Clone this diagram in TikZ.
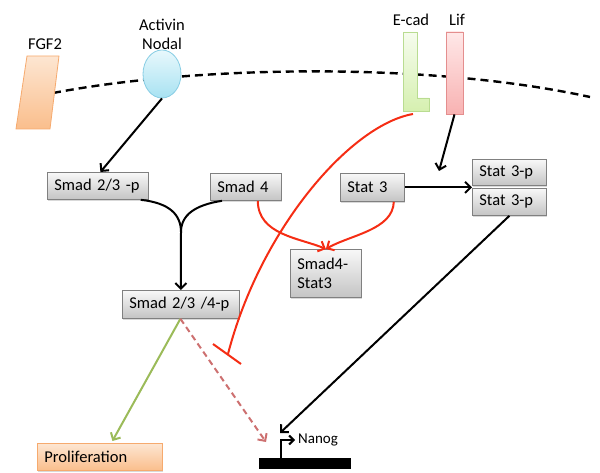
\documentclass[tikz,border=0pt]{standalone}
\usepackage{fontspec}
\setmainfont{Carlito}
\usetikzlibrary{arrows.meta,shadows,shapes.geometric}

\definecolor{boxline}{RGB}{128,128,128}
\definecolor{boxtop}{RGB}{248,248,248}
\definecolor{boxbot}{RGB}{196,196,196}
\definecolor{orline}{RGB}{246,170,110}
\definecolor{ortop}{RGB}{253,230,210}
\definecolor{orbot}{RGB}{250,190,140}
\definecolor{cyline}{RGB}{135,205,228}
\definecolor{cytop}{RGB}{232,248,252}
\definecolor{cybot}{RGB}{168,226,242}
\definecolor{grline}{RGB}{185,220,145}
\definecolor{grtop}{RGB}{246,252,238}
\definecolor{grbot}{RGB}{214,240,176}
\definecolor{pkline}{RGB}{228,142,142}
\definecolor{pktop}{RGB}{255,232,232}
\definecolor{pkbot}{RGB}{248,178,178}
\definecolor{inhred}{RGB}{245,45,20}
\definecolor{dashred}{RGB}{205,112,112}
\definecolor{leafgreen}{RGB}{155,187,89}

\begin{document}
\begin{tikzpicture}[x=1pt,y=-1pt,
  txt/.style={font=\fontsize{16.5}{19}\selectfont, inner sep=0pt},
  gbox/.style={draw=boxline, line width=0.8pt, top color=boxtop, bottom color=boxbot,
    drop shadow={opacity=0.3, shadow xshift=1pt, shadow yshift=-1.5pt},
    inner xsep=7pt, inner ysep=0pt, align=left, anchor=north west,
    font=\fontsize{16.5}{19}\selectfont},
  tip/.style={-{Straight Barb[length=5.5pt,width=11pt]}},
  blk/.style={draw=black, line width=2pt, tip},
  blkline/.style={draw=black, line width=2pt},
  redarr/.style={draw=inhred, line width=2pt, tip},
  redline/.style={draw=inhred, line width=2pt},
]
\useasboundingbox (0,0) rectangle (600,473);

% cell membrane
\draw[line width=2.4pt, dash pattern=on 8pt off 5pt]
  (53,93) .. controls (200,65) and (430,62) .. (590,97);

% receptors and ligands at the membrane
\path[draw=orline, line width=0.8pt, top color=ortop, bottom color=orbot]
  (27,56) -- (59,56) -- (50,129) -- (16,129) -- cycle;
\node[txt] (fgf) at (45,44) {FGF2};

\node[ellipse, draw=cyline, line width=0.8pt, top color=cytop, bottom color=cybot,
  minimum width=38pt, minimum height=48pt, inner sep=0pt] (act) at (162,74) {};
\node[txt, align=center] (actlbl) at (162,34) {Activin\\Nodal};

\path[draw=grline, line width=0.8pt, top color=grtop, bottom color=grbot]
  (403,32) -- (417,32) -- (417,98) -- (429,98) -- (429,111) -- (403,111) -- cycle;
\node[txt] (ecadlbl) at (411,20) {E-cad};
\coordinate (ecadb) at (413,114);

\node[draw=pkline, line width=0.8pt, top color=pktop, bottom color=pkbot,
  minimum width=17pt, minimum height=82pt, inner sep=0pt] (lif) at (454.5,73) {};
\node[txt] (liflbl) at (457,20) {Lif};

% signalling intermediates
\node[gbox, text width=87pt, minimum height=27pt] (s23p) at (47,172) {\mbox{Smad 2/3 -p}};
\node[gbox, text width=57pt, minimum height=27pt] (s4) at (210,173) {\mbox{Smad 4}};
\node[gbox, text width=50pt, minimum height=28pt] (st3) at (340,173) {\mbox{Stat 3}};
\node[gbox, text width=60pt, minimum height=26pt] (stp1) at (472,159) {\mbox{Stat 3-p}};
\node[gbox, text width=60pt, minimum height=27pt] (stp2) at (472,188) {\mbox{Stat 3-p}};
\node[gbox, text width=57pt, minimum height=48pt] (cx) at (290,249) {Smad4-\\Stat3};
\node[gbox, text width=103pt, minimum height=28pt] (s234) at (122,290) {\mbox{Smad 2/3 /4-p}};

% outputs
\node[gbox, draw=orline, top color=ortop, bottom color=orbot, text width=111pt,
  minimum height=27pt] (prol) at (37,443) {\mbox{Proliferation}};
\node[fill=black, minimum width=92pt, minimum height=11pt, inner sep=0pt,
  anchor=north west] (nbar) at (259,458) {};
\node[font=\fontsize{15}{18}\selectfont, inner sep=0pt, anchor=west] (nanog) at (298,440) {Nanog};
\draw[line width=2pt, -{Straight Barb[length=4.5pt,width=9pt]}]
  ([xshift=22pt]nbar.north west) |- ([xshift=-3pt]nanog.west);

% connectors
\coordinate (merge) at (181,232);
\coordinate (lifend) at (439,171);
\coordinate (inh) at (228,354);
\coordinate (nanin) at (266,442);
\coordinate (statin) at (280,433);

\draw[blk] (act.south) -- ([xshift=2.5pt]s23p.north);
\draw[blkline] ([xshift=-8pt]s23p.south east) .. controls (170,203) and (181,215) .. (merge);
\draw[blkline] ([xshift=12pt]s4.south west) .. controls (195,205) and (181,215) .. (merge);
\draw[blk] (merge) -- (s234.north);

\draw[redarr] ([xshift=-24pt]s4.south east) .. controls (258,235) and (300,238) .. (cx.north);
\draw[redarr] ([xshift=-11pt]st3.south east) .. controls (393,230) and (350,235) .. (cx.north);

\draw[blk] (st3.east) -- (st3.east -| stp2.west);
\draw[blk] (lif.south) -- (lifend);

\draw[redline] (ecadb) .. controls (350,125) and (260,230) .. (inh);
\draw[redline] (213,344) -- (241,364);

\draw[draw=leafgreen, line width=2pt, tip] ([xshift=-0.5pt]s234.south) -- ([xshift=12.5pt,yshift=2pt]prol.north);
\draw[draw=dashred, line width=2pt, dash pattern=on 6pt off 4pt, tip] ([xshift=-0.5pt]s234.south) -- (nanin);
\draw[blk] (stp2.south) -- (statin);
\end{tikzpicture}
\end{document}
